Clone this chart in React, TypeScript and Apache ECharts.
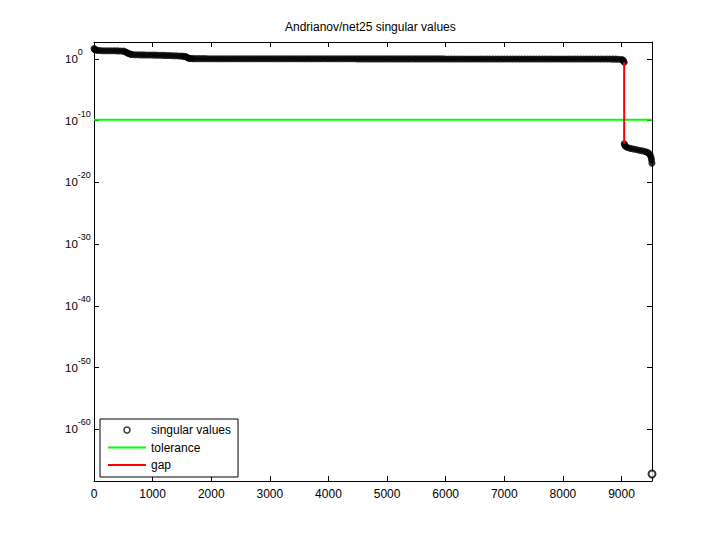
import React, { useEffect, useRef } from "react";
import * as echarts from "echarts";

const titleText = "Andrianov/net25 singular values";
const nTotal = 9520;
const xTicks = [0, 1000, 2000, 3000, 4000, 5000, 6000, 7000, 8000, 9000];
const yTickExps = [0, -10, -20, -30, -40, -50, -60];
const yMinExp = -68.36;
const yMaxExp = 2.72;

// large singular values (index, log10 value)
const bigIndex = [
  1, 10, 30, 60, 100, 150, 200, 250, 300, 350, 400, 450, 500, 530, 560, 590, 620, 650,
  700, 750, 800, 850, 900, 950, 1000, 1050, 1100, 1150, 1200, 1250, 1300, 1350, 1400,
  1450, 1500, 1540, 1570, 1590, 1610, 1630, 1660, 1700,
  1750, 1800, 1850, 1900, 1950, 2000, 2050, 2100, 2150, 2200,
  2250, 2300, 2350, 2400, 2450, 2500, 2550, 2600, 2650, 2700,
  2750, 2800, 2850, 2900, 2950, 3000, 3050, 3100, 3150, 3200,
  3250, 3300, 3350, 3400, 3450, 3500, 3550, 3600, 3650, 3700,
  3750, 3800, 3850, 3900, 3950, 4000, 4050, 4100, 4150, 4200,
  4250, 4300, 4350, 4400, 4450, 4500, 4550, 4600, 4650, 4700,
  4750, 4800, 4850, 4900, 4950, 5000, 5050, 5100, 5150, 5200,
  5250, 5300, 5350, 5400, 5450, 5500, 5550, 5600, 5650, 5700,
  5750, 5800, 5850, 5900, 5950, 6000, 6050, 6100, 6150, 6200,
  6250, 6300, 6350, 6400, 6450, 6500, 6550, 6600, 6650, 6700,
  6750, 6800, 6850, 6900, 6950, 7000, 7050, 7100, 7150, 7200,
  7250, 7300, 7350, 7400, 7450, 7500, 7550, 7600, 7650, 7700,
  7750, 7800, 7850, 7900, 7950, 8000, 8050, 8100, 8150, 8200,
  8250, 8300, 8350, 8400, 8450, 8500, 8550, 8600, 8650, 8700,
  8750, 8800, 8850, 8900, 8950,
  9000, 9020, 9035, 9045,
];
const bigExp = [
  1.65, 1.5, 1.42, 1.37, 1.33, 1.31, 1.3, 1.3, 1.29, 1.29, 1.28, 1.27, 1.24, 1.15, 1.0, 0.86, 0.76, 0.7,
  0.66, 0.65, 0.64, 0.63, 0.62, 0.61, 0.6, 0.59, 0.58, 0.57, 0.55, 0.54, 0.52, 0.5, 0.48,
  0.46, 0.43, 0.39, 0.32, 0.22, 0.12, 0.06, 0.04, 0.03,
  0.03, 0.03, 0.03, 0.03, 0.02, 0.02, 0.02, 0.02, 0.02, 0.02,
  0.02, 0.02, 0.02, 0.02, 0.02, 0.01, 0.01, 0.01, 0.01, 0.01,
  0.01, 0.01, 0.01, 0.01, 0.01, 0.01, 0.01, 0.01, 0.01, 0.01,
  0.01, 0.01, 0.01, 0.01, 0.01, 0.0, 0.0, 0.0, 0.0, 0.0,
  0.0, 0.0, 0.0, 0.0, 0.0, 0.0, 0.0, 0.0, 0.0, 0.0,
  0.0, 0.0, 0.0, 0.0, 0.0, -0.01, -0.01, -0.01, -0.01, -0.01,
  -0.01, -0.01, -0.01, -0.01, -0.01, -0.01, -0.01, -0.01, -0.01, -0.01,
  -0.01, -0.01, -0.01, -0.01, -0.01, -0.01, -0.01, -0.01, -0.01, -0.01,
  -0.01, -0.01, -0.01, -0.01, -0.01, -0.02, -0.02, -0.02, -0.02, -0.02,
  -0.02, -0.02, -0.02, -0.02, -0.02, -0.02, -0.02, -0.02, -0.02, -0.02,
  -0.02, -0.02, -0.02, -0.02, -0.02, -0.02, -0.02, -0.02, -0.02, -0.02,
  -0.02, -0.02, -0.02, -0.02, -0.02, -0.03, -0.03, -0.03, -0.03, -0.03,
  -0.03, -0.03, -0.03, -0.03, -0.03, -0.03, -0.03, -0.03, -0.03, -0.03,
  -0.03, -0.03, -0.03, -0.03, -0.03, -0.04, -0.04, -0.04, -0.04, -0.04,
  -0.04, -0.04, -0.05, -0.05, -0.06,
  -0.1, -0.2, -0.35, -0.55,
];

// small singular values (index, log10 value)
const smallIndex = [9046, 9055, 9070, 9100, 9150, 9200, 9250, 9300, 9350, 9400, 9440, 9470, 9490, 9505, 9512, 9519, 9520];
const smallExp = [-13.75, -14.0, -14.2, -14.35, -14.5, -14.6, -14.7, -14.8, -14.9, -15.0, -15.15, -15.35, -15.6, -16.0, -16.4, -16.9, -67.23];

const toleranceExp = -9.85;
const gapIndex = 9045;
const gapExp = [-0.55, -13.75];

const seriesNames = ["singular values", "tolerance", "gap"];

const font = "'Liberation Sans', Arial, Helvetica, sans-serif";

export default function App() {
  const ref = useRef<HTMLDivElement>(null);

  useEffect(() => {
    if (!ref.current) return;
    const chart = echarts.init(ref.current, undefined, { renderer: "svg" });

    const allPts = [
      ...bigIndex.map((x, i) => [x, bigExp[i]]),
      ...smallIndex.map((x, i) => [x, smallExp[i]]),
    ];
    const svData = allPts.map((p, i) =>
      i === allPts.length - 1
        ? { value: p, itemStyle: { color: "#fff", borderColor: "#000", borderWidth: 2 } }
        : p
    );

    const axisLine = { show: true, onZero: false, lineStyle: { color: "#000", width: 1 } };

    const option: any = {
      animation: false,
      backgroundColor: "#fff",
      textStyle: { color: "#000", fontFamily: font },
      title: {
        text: titleText,
        left: 285,
        top: 21,
        padding: 0,
        textStyle: { fontSize: 12, fontWeight: "normal", color: "#000", fontFamily: font },
      },
      grid: { left: 94, top: 42, width: 558, height: 439, containLabel: false },
      legend: {
        orient: "vertical",
        left: 100,
        top: 419,
        padding: [4, 7, 5, 7],
        itemWidth: 38,
        itemHeight: 6,
        itemGap: 3.5,
        borderColor: "#000",
        borderWidth: 1,
        backgroundColor: "#fff",
        selectedMode: false,
        textStyle: { fontSize: 12, color: "#000", fontFamily: font, lineHeight: 14 },
        data: [
          {
            name: seriesNames[0],
            icon: "circle",
            itemStyle: { color: "#fff", borderColor: "#000", borderWidth: 1.5 },
          },
          {
            name: seriesNames[1],
            itemStyle: { opacity: 0 },
            lineStyle: { color: "#00ff00", width: 2 },
          },
          {
            name: seriesNames[2],
            itemStyle: { opacity: 0 },
            lineStyle: { color: "#ff0000", width: 2 },
          },
        ],
      },
      xAxis: [
        {
          type: "value",
          position: "bottom",
          min: 0,
          max: nTotal,
          axisLine,
          axisTick: { show: true, inside: true, length: 5, customValues: xTicks, lineStyle: { color: "#000" } },
          axisLabel: {
            customValues: xTicks,
            color: "#000",
            fontSize: 12,
            fontFamily: font,
            margin: 7,
            formatter: (v: number) => String(v),
          },
          splitLine: { show: false },
        },
        {
          type: "value",
          position: "top",
          min: 0,
          max: nTotal,
          axisLine,
          axisTick: { show: true, inside: true, length: 5, customValues: xTicks, lineStyle: { color: "#000" } },
          axisLabel: { show: false },
          splitLine: { show: false },
        },
      ],
      yAxis: [
        {
          type: "value",
          position: "left",
          min: yMinExp,
          max: yMaxExp,
          axisLine,
          axisTick: { show: true, inside: true, length: 5, customValues: yTickExps, lineStyle: { color: "#000" } },
          axisLabel: {
            customValues: yTickExps,
            align: "left",
            margin: 29,
            color: "#000",
            formatter: (v: number) => `{b|10}{s|${v}}`,
            rich: {
              b: { fontSize: 11.5, fontFamily: font, color: "#000" },
              s: { fontSize: 9, fontFamily: font, color: "#000", padding: [0, 0, 14, 0] },
            },
          },
          splitLine: { show: false },
        },
        {
          type: "value",
          position: "right",
          min: yMinExp,
          max: yMaxExp,
          axisLine,
          axisTick: { show: true, inside: true, length: 5, customValues: yTickExps, lineStyle: { color: "#000" } },
          axisLabel: { show: false },
          splitLine: { show: false },
        },
      ],
      series: [
        {
          name: seriesNames[0],
          type: "scatter",
          xAxisIndex: 0,
          yAxisIndex: 0,
          symbol: "circle",
          symbolSize: 7,
          itemStyle: { color: "#000" },
          data: svData,
          silent: true,
          z: 2,
        },
        {
          name: seriesNames[1],
          type: "line",
          xAxisIndex: 0,
          yAxisIndex: 0,
          symbol: "none",
          color: "#00ff00",
          lineStyle: { color: "#00ff00", width: 2 },
          data: [
            [0, toleranceExp],
            [nTotal, toleranceExp],
          ],
          silent: true,
          z: 3,
        },
        {
          name: seriesNames[2],
          type: "line",
          xAxisIndex: 0,
          yAxisIndex: 0,
          symbol: "none",
          color: "#ff0000",
          lineStyle: { color: "#ff0000", width: 2 },
          data: [
            [gapIndex, gapExp[0]],
            [gapIndex, gapExp[1]],
          ],
          silent: true,
          z: 4,
        },
      ],
    };

    chart.setOption(option);
    return () => chart.dispose();
  }, []);

  return (
    <div
      ref={ref}
      style={{ position: "fixed", left: 0, top: 0, width: 720, height: 540, background: "#fff" }}
    />
  );
}
